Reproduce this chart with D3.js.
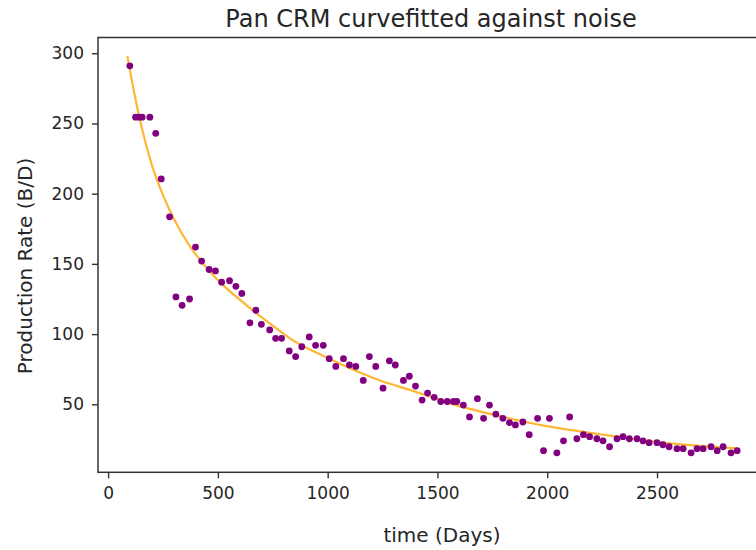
<!DOCTYPE html>
<html>
<head>
<meta charset="utf-8">
<script src="https://cdn.jsdelivr.net/npm/d3@7"></script>
<style>
  html, body { margin: 0; padding: 0; background: #fff; }
  svg { display: block; font-family: "DejaVu Sans", sans-serif; }
</style>
</head>
<body>
<svg id="chart" width="756" height="550"></svg>
<script>
// ---- data ----
const days = [99,125,140,155,190,217,242,280,309,337,371,398,426,460,489,517,553,582,609,646,673,698,736,763,790,825,854,882,916,945,980,1007,1037,1072,1099,1128,1162,1190,1219,1252,1281,1308,1345,1372,1400,1430,1455,1485,1515,1545,1573,1588,1618,1646,1682,1710,1737,1766,1798,1828,1855,1889,1918,1956,1983,2010,2044,2074,2102,2135,2165,2193,2226,2254,2284,2318,2345,2374,2409,2436,2464,2500,2527,2555,2591,2619,2655,2682,2710,2746,2774,2801,2837,2865];
const rates = [291,254.5,254.5,254.5,254.5,243,210.5,183.5,126.5,120.5,125,162,152,146,145,137,138,134,129,108,117,107,103,97,97,88,84,91,98,92,92,82.5,77,82.5,78,77,67,84,77,61.5,81,78,67,70,63,53,58,55,52,52,52,52,49.5,41,54,40,49.5,43,40,37,35.3,37.4,28.4,40,17,40,15.5,24,41,25.5,28.4,27,25.5,24,19.8,25.5,27,25.5,25.5,24,22.7,22.7,21.2,19.8,18.4,18.4,15.5,18.4,18.4,19.8,17,19.8,15.5,17];
const fitDays = [88,120,150,200,250,300,375,450,509,600,646,750,828,1000,1239,1400,1557,1800,1998,2241,2469,2600,2865];
const fitRates = [298,271,249,220,199,182,162,147,137,124.5,118.5,106,97,83,67,59,50.7,41,34.5,28.7,23.8,21.6,18.6];
const xTicks = [0,500,1000,1500,2000,2500];
const yTicks = [50,100,150,200,250,300];
const title = "Pan CRM curvefitted against noise";
const xLabel = "time (Days)";
const yLabel = "Production Rate (B/D)";

// ---- layout ----
const svg = d3.select("#chart");
const L = 98, R = 769, T = 37.5, B = 472.3;
const x = d3.scaleLinear().domain([-46, 3010]).range([L, R]);
const y = d3.scaleLinear().domain([1.6, 311.2]).range([B, T]);
const axisColor = "#333";

// fitted curve
const line = d3.line().x((d, i) => x(fitDays[i])).y(d => y(d)).curve(d3.curveMonotoneX);
svg.append("path")
  .datum(fitRates)
  .attr("d", line)
  .attr("fill", "none")
  .attr("stroke", "#FFA500")
  .attr("stroke-opacity", 0.8)
  .attr("stroke-width", 2.2);

// scatter
svg.append("g").selectAll("circle")
  .data(rates)
  .join("circle")
  .attr("cx", (d, i) => x(days[i]))
  .attr("cy", d => y(d))
  .attr("r", 3.4)
  .attr("fill", "#800080");

// axes
const xAxis = d3.axisBottom(x).tickValues(xTicks).tickSize(6).tickPadding(9).tickFormat(d3.format("d"));
const yAxis = d3.axisLeft(y).tickValues(yTicks).tickSize(6).tickPadding(8).tickFormat(d3.format("d"));

const gx = svg.append("g").attr("transform", `translate(0,${B})`).call(xAxis);
const gy = svg.append("g").attr("transform", `translate(${L},0)`).call(yAxis);
[gx, gy].forEach(g => {
  g.select(".domain").remove();
  g.selectAll(".tick line").attr("stroke", axisColor).attr("stroke-width", 1.4);
  g.selectAll(".tick text").attr("fill", "#262626").style("font-size", "17px").style("font-family", "DejaVu Sans");
});

// frame (spines)
svg.append("rect")
  .attr("x", L).attr("y", T)
  .attr("width", R - L).attr("height", B - T)
  .attr("fill", "none")
  .attr("stroke", axisColor)
  .attr("stroke-width", 1.5);

// title & labels
svg.append("text")
  .attr("x", 431).attr("y", 27)
  .attr("text-anchor", "middle")
  .attr("fill", "#262626")
  .style("font-size", "24px")
  .text(title);

svg.append("text")
  .attr("x", 442).attr("y", 542)
  .attr("text-anchor", "middle")
  .attr("fill", "#262626")
  .style("font-size", "20px")
  .text(xLabel);

svg.append("text")
  .attr("transform", "translate(32,266) rotate(-90)")
  .attr("text-anchor", "middle")
  .attr("fill", "#262626")
  .style("font-size", "20px")
  .text(yLabel);
</script>
</body>
</html>
